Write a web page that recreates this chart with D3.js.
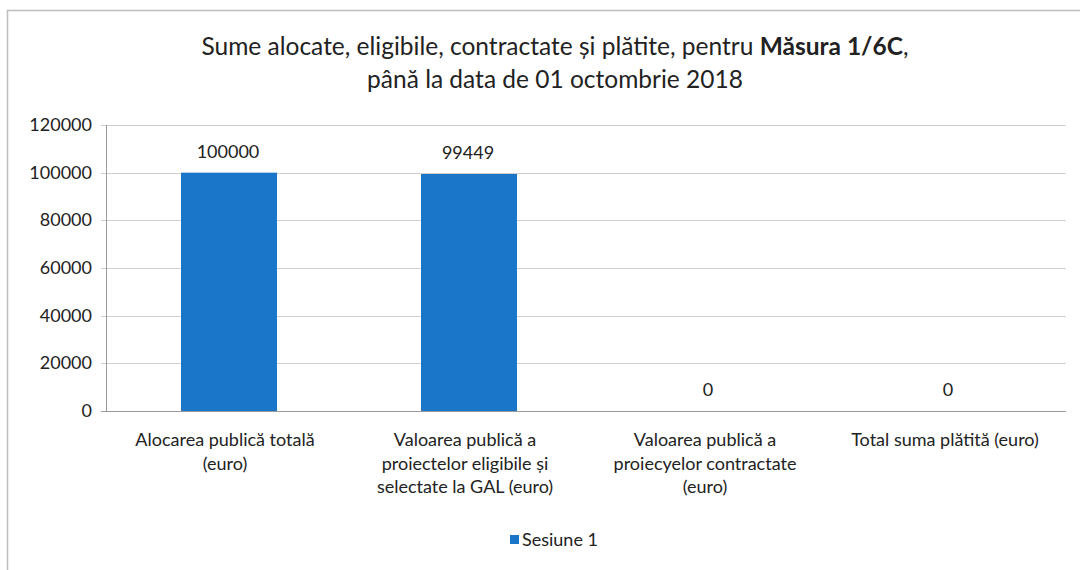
<!DOCTYPE html>
<html>
<head>
<meta charset="utf-8">
<script src="https://cdn.jsdelivr.net/npm/d3@7"></script>
<style>
body{margin:0;background:#fff;}
text{font-family:Lato,"Open Sans",sans-serif;fill:#222;}
</style>
</head>
<body>
<svg id="chart" width="1080" height="570"></svg>
<script>
var categories=[
    ["Alocarea publică totală","(euro)"],
    ["Valoarea publică a","proiectelor eligibile și","selectate la GAL (euro)"],
    ["Valoarea publică a","proiecyelor contractate","(euro)"],
    ["Total suma plătită (euro)"]
];
var values=[100000,99449,0,0];
var yTicks=[0,20000,40000,60000,80000,100000,120000];
var seriesName="Sesiune 1";

var svg=d3.select("#chart");
var barColor="#1a76c8";

// frame
svg.append("path")
    .attr("d","M7.5,570 L7.5,10.5 L1080,10.5")
    .attr("fill","none")
    .attr("stroke","#bdbdbd")
    .attr("stroke-width",1.5);

// title
var title=svg.append("text").attr("text-anchor","middle").attr("font-size",24.5);
var t1=title.append("tspan").attr("x",555).attr("y",55);
t1.append("tspan").text("Sume alocate, eligibile, contractate și plătite, pentru ");
t1.append("tspan").attr("font-weight","bold").text("Măsura 1/6C");
t1.append("tspan").text(",");
title.append("tspan").attr("x",555).attr("y",88).text("până la data de 01 octombrie 2018");

var x=d3.scaleBand().domain(d3.range(categories.length)).range([106,1066]).padding(0);
var y=d3.scaleLinear().domain([0,120000]).range([411,125]);

// gridlines
svg.append("g").selectAll("line")
    .data(yTicks)
    .enter()
    .append("line")
    .attr("x1",101).attr("x2",1066)
    .attr("y1",function(d){ return Math.round(y(d))+0.5 })
    .attr("y2",function(d){ return Math.round(y(d))+0.5 })
    .attr("stroke",function(d){ return d===0 ? "#9a9a9a" : "#cfcfcf" })
    .attr("stroke-width",1.2);

svg.append("line")
    .attr("x1",106.5).attr("x2",106.5)
    .attr("y1",y(120000)).attr("y2",y(0))
    .attr("stroke","#9a9a9a");

// y tick labels
svg.append("g").selectAll("text")
    .data(yTicks)
    .enter()
    .append("text")
    .attr("x",92)
    .attr("y",function(d){ return y(d)+6 })
    .attr("text-anchor","end")
    .attr("font-size",18)
    .text(function(d){ return d });

// bars
var bw=x.bandwidth()*0.4;
svg.append("g").selectAll("rect")
    .data(values)
    .enter()
    .append("rect")
    .attr("x",function(d,i){ return x(i)+x.bandwidth()/2-bw/2+3 })
    .attr("y",function(d){ return y(d) })
    .attr("width",bw)
    .attr("height",function(d){ return y(0)-y(d) })
    .attr("fill",barColor);

// value labels
svg.append("g").selectAll("text")
    .data(values)
    .enter()
    .append("text")
    .attr("x",function(d,i){ return x(i)+x.bandwidth()/2+2 })
    .attr("y",function(d){ return y(d)-15 })
    .attr("text-anchor","middle")
    .attr("font-size",18)
    .text(function(d){ return d });

// category labels
var cat=svg.append("g").selectAll("text")
    .data(categories)
    .enter()
    .append("text")
    .attr("text-anchor","middle")
    .attr("font-size",18);
cat.selectAll("tspan")
    .data(function(d,i){ return d.map(function(s){ return {s:s,i:i} }) })
    .enter()
    .append("tspan")
    .attr("x",function(d){ return x(d.i)+x.bandwidth()/2-1 })
    .attr("y",function(d,j){ return 446+j*23.5 })
    .text(function(d){ return d.s });

// legend
svg.append("rect").attr("x",510).attr("y",535).attr("width",9).attr("height",9).attr("fill",barColor);
svg.append("text").attr("x",522).attr("y",546).attr("font-size",18).text(seriesName);
</script>
</body>
</html>
